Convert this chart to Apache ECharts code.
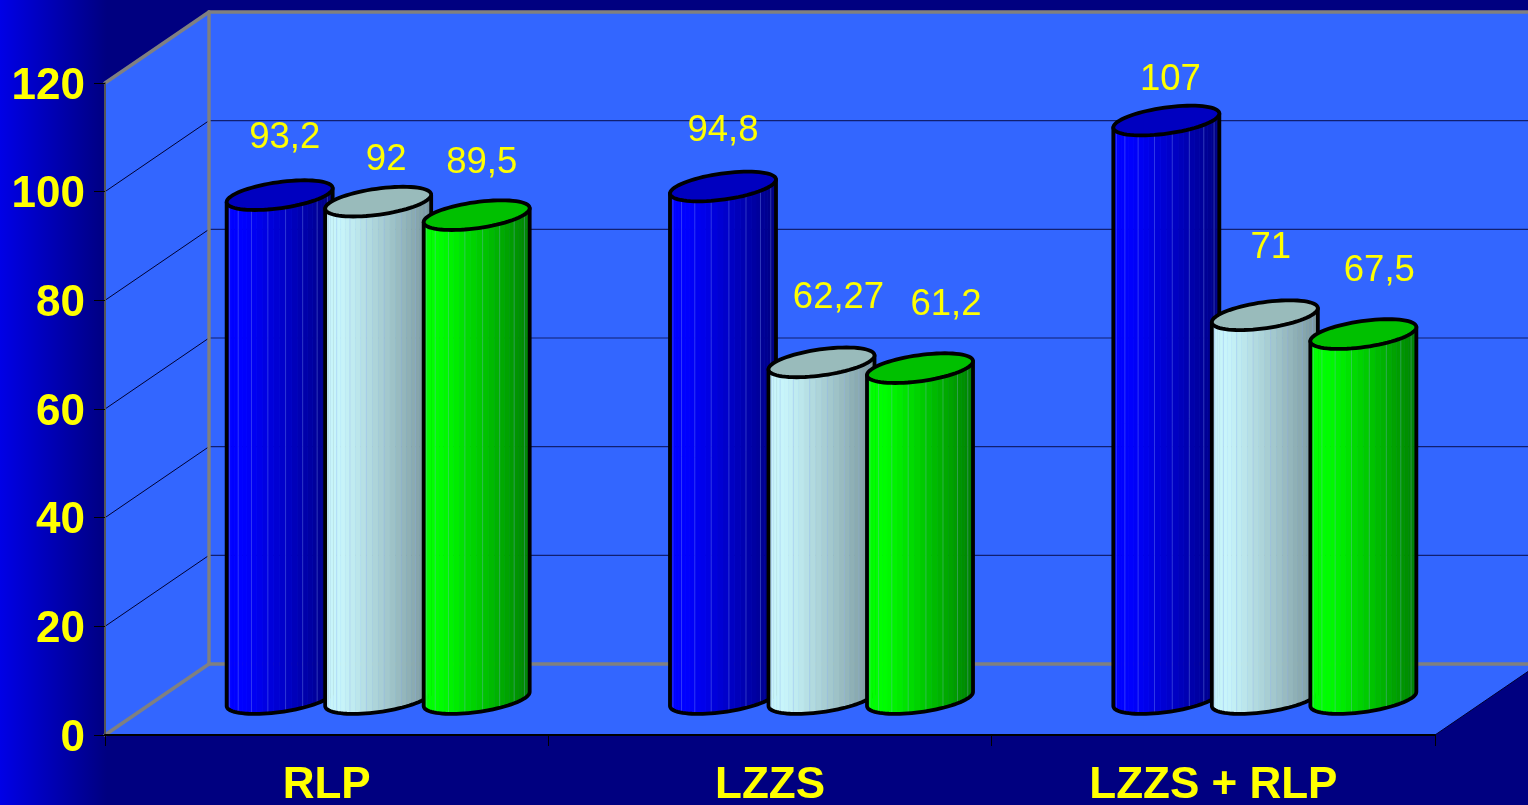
<!DOCTYPE html>
<html><head><meta charset="utf-8">
<script src="https://cdn.jsdelivr.net/npm/echarts@6/dist/echarts.min.js"></script>
<style>html,body{margin:0;padding:0;width:100%;height:100%;overflow:hidden;background:#000080}#c{width:1528px;height:805px}</style>
</head><body><div id="c"></div>
<script>
var categories = ['RLP', 'LZZS', 'LZZS + RLP'];
var yTicks = [0, 20, 40, 60, 80, 100, 120];
var seriesA = [93.2, 94.8, 107];
var seriesB = [92, 62.27, 71];
var seriesC = [89.5, 61.2, 67.5];

// layout only: label nudges in px relative to the top of each cylinder
var labelNudgeA = [[5, -58], [0, -57], [4, -42]];
var labelNudgeB = [[8, -43], [17, -65], [6, -68]];
var labelNudgeC = [[5, -53], [26, -64], [16, -64]];

var DEPTH_X = 104, DEPTH_Y = -71;
var FONT = '"Liberation Sans", Arial, sans-serif';

function mix(c1, c2, f) {
  return 'rgb(' + c1.map(function (v, i) { return Math.round(v + (c2[i] - v) * f); }).join(',') + ')';
}
var A = 53.5, B = 13, TH = -8 * Math.PI / 180;
function ellipsePt(cx, cy, t) {
  var x = A * Math.cos(t), y = B * Math.sin(t);
  return [cx + x * Math.cos(TH) - y * Math.sin(TH), cy + x * Math.sin(TH) + y * Math.cos(TH)];
}
var T0 = Math.atan(B * Math.abs(Math.sin(TH)) / (A * Math.cos(TH)));

function cylinderRender(slot, bright, dark, topColor, nudges) {
  return function (params, api) {
    var idx = api.value(0), v = api.value(1);
    var band = params.coordSys.width / categories.length;
    var step = band * 0.2222;
    var base = api.coord([idx, 0]), top = api.coord([idx, v]);
    var cx = base[0] + slot * step + DEPTH_X / 2 - 0.5;
    var by = base[1] + DEPTH_Y / 2 - 0.5;
    var ty = by - (base[1] - top[1]) * 0.995; // perspective shrink at mid depth
    var kids = [], N = 28, i;
    var outline = [];
    for (i = 0; i < N; i++) {
      var t1 = T0 + Math.PI * i / N, t2 = T0 + Math.PI * (i + 1) / N;
      var p1 = ellipsePt(cx, by, t1), p2 = ellipsePt(cx, by, t2);
      var q1 = ellipsePt(cx, ty, t1), q2 = ellipsePt(cx, ty, t2);
      var f = (cx + A - (p1[0] + p2[0]) / 2) / (2 * A);
      var s = 1 - f; // 0 left .. 1 right
      var shade = s < 0.15 ? 0 : Math.pow((s - 0.15) / 0.85, 1.1);
      var col = mix(bright, dark, shade);
      kids.push({
        type: 'polygon',
        shape: { points: [p1, p2, q2, q1] },
        style: { fill: col, stroke: col, lineWidth: 0.6 }
      });
      if (i % 3 === 1) {
        kids.push({
          type: 'line',
          shape: { x1: p1[0], y1: p1[1], x2: q1[0], y2: q1[1] },
          style: { stroke: 'rgba(150,180,240,0.3)', lineWidth: 1 }
        });
      }
    }
    var M = 40;
    for (i = 0; i <= M; i++) outline.push(ellipsePt(cx, by, T0 + Math.PI * i / M));
    outline.push(ellipsePt(cx, ty, T0 + Math.PI));
    outline.push(ellipsePt(cx, ty, T0));
    kids.push({
      type: 'polygon',
      shape: { points: outline },
      style: { fill: 'none', stroke: '#000', lineWidth: 3.8, lineJoin: 'round' }
    });
    kids.push({
      type: 'polygon',
      shape: { points: (function () { var a = []; for (var k = 0; k < 72; k++) a.push(ellipsePt(cx, ty, k * Math.PI / 36)); return a; })() },
      style: { fill: topColor, stroke: '#000', lineWidth: 3.8 }
    });
    var nudge = nudges[idx];
    kids.push({
      type: 'text',
      style: {
        text: String(v).replace('.', ','),
        x: cx + nudge[0], y: ty + nudge[1] + 1,
        fill: '#ffff00', font: '36.5px ' + FONT, align: 'center', verticalAlign: 'middle'
      }
    });
    return { type: 'group', children: kids };
  };
}

function wallsRender(params, api) {
  var cs = params.coordSys;
  var L = cs.x, R = cs.x + cs.width;
  var y0 = api.coord([0, 0])[1], yT = api.coord([0, 120])[1];
  var bL = L + DEPTH_X, bR = R + DEPTH_X;
  var wall = '#3366ff', grey = '#808080';
  var kids = [
    { type: 'polygon', shape: { points: [[bL, yT + DEPTH_Y], [bR, yT + DEPTH_Y], [bR, y0 + DEPTH_Y], [bL, y0 + DEPTH_Y]] }, style: { fill: wall } },
    { type: 'polygon', shape: { points: [[L, yT], [bL, yT + DEPTH_Y], [bL, y0 + DEPTH_Y], [L, y0]] }, style: { fill: wall } },
    { type: 'polygon', shape: { points: [[L, y0], [bL, y0 + DEPTH_Y], [bR, y0 + DEPTH_Y], [R, y0]] }, style: { fill: wall } }
  ];
  yTicks.forEach(function (t) {
    if (t === 0 || t === 120) return;
    var y = api.coord([0, t])[1];
    kids.push({ type: 'line', shape: { x1: L, y1: y, x2: bL, y2: y + DEPTH_Y }, style: { stroke: '#000030', lineWidth: 1 } });
    kids.push({ type: 'line', shape: { x1: bL, y1: y + DEPTH_Y, x2: bR, y2: y + DEPTH_Y }, style: { stroke: '#101f70', lineWidth: 1.2 } });
  });
  [[L, yT, bL, yT + DEPTH_Y], [bL, yT + DEPTH_Y, bR, yT + DEPTH_Y], [bL, yT + DEPTH_Y, bL, y0 + DEPTH_Y],
   [L, y0, bL, y0 + DEPTH_Y], [bL, y0 + DEPTH_Y, bR, y0 + DEPTH_Y]].forEach(function (s) {
    kids.push({ type: 'line', shape: { x1: s[0], y1: s[1], x2: s[2], y2: s[3] }, style: { stroke: grey, lineWidth: 3.4, lineCap: 'round' } });
  });
  kids.push({ type: 'line', shape: { x1: R, y1: y0, x2: bR, y2: y0 + DEPTH_Y }, style: { stroke: '#000030', lineWidth: 1 } });
  return { type: 'group', children: kids };
}

function pairs(values) { return values.map(function (v, i) { return [i, v]; }); }

var chart = echarts.init(document.getElementById('c'), null, { renderer: 'canvas', width: 1528, height: 805 });
chart.setOption({
  animation: false,
  backgroundColor: {
    type: 'linear', x: 0, y: 0, x2: 1, y2: 0,
    colorStops: [{ offset: 0, color: '#0000e6' }, { offset: 0.07, color: '#000080' }, { offset: 1, color: '#000080' }]
  },
  grid: { left: 105, right: 93, top: 83, bottom: 70, containLabel: false, outerBoundsMode: 'none' },
  xAxis: {
    type: 'category', data: categories, z: 6,
    axisLine: { show: true, lineStyle: { color: '#000', width: 2 } },
    axisTick: { show: true, length: 11, lineStyle: { color: '#000', width: 1 } },
    axisLabel: { color: '#ffff00', fontFamily: FONT, fontWeight: 'bold', fontSize: 44, margin: 29 },
    splitLine: { show: false }
  },
  yAxis: {
    type: 'value', min: 0, max: 120, interval: 20, z: 6,
    axisLine: { show: true, lineStyle: { color: '#555', width: 2 } },
    axisTick: { show: true, length: 11, lineStyle: { color: '#000', width: 1 } },
    axisLabel: {
      color: '#ffff00', fontFamily: FONT, fontWeight: 'bold', fontSize: 44, margin: 20,
      formatter: '{a|{value}}',
      rich: { a: { color: '#ffff00', fontFamily: FONT, fontWeight: 'bold', fontSize: 44, padding: [7, 0, 0, 0] } }
    },
    splitLine: { show: false }
  },
  series: [
    { type: 'custom', name: 'walls', silent: true, clip: false, z: 1, data: [[0, 0]], encode: { x: 0, y: 1 }, renderItem: wallsRender },
    { type: 'custom', name: 'A', silent: true, z: 2, data: pairs(seriesA), encode: { x: 0, y: 1 },
      renderItem: cylinderRender(-1, [0, 0, 255], [0, 0, 128], '#0000c0', labelNudgeA) },
    { type: 'custom', name: 'B', silent: true, z: 3, data: pairs(seriesB), encode: { x: 0, y: 1 },
      renderItem: cylinderRender(0, [200, 245, 250], [122, 150, 155], '#99bbbb', labelNudgeB) },
    { type: 'custom', name: 'C', silent: true, z: 4, data: pairs(seriesC), encode: { x: 0, y: 1 },
      renderItem: cylinderRender(1, [0, 255, 0], [0, 128, 0], '#00c000', labelNudgeC) }
  ]
});
</script></body></html>
